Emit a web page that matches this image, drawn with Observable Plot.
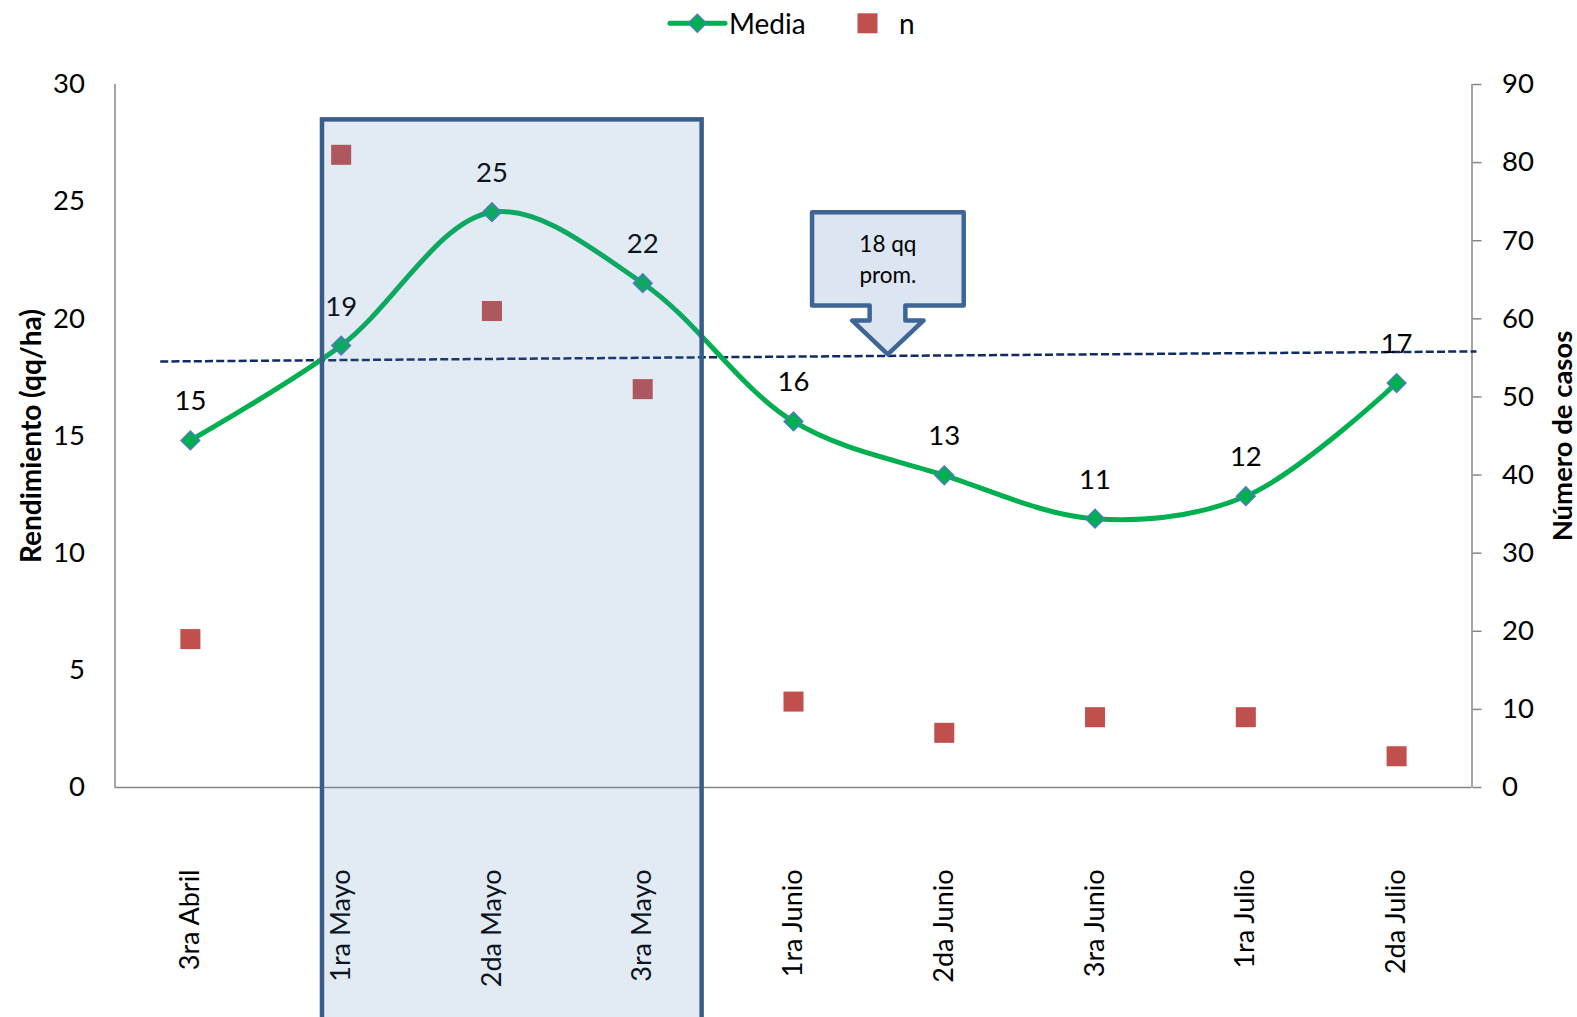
<!DOCTYPE html>
<html><head><meta charset="utf-8">
<script src="https://cdn.jsdelivr.net/npm/d3@7"></script>
<script src="https://cdn.jsdelivr.net/npm/@observablehq/plot@0.6"></script>
<style>
html,body{margin:0;padding:0;background:#fff;overflow:hidden;}
#legend{height:46px;display:block;}
#chart svg{display:block;}
</style></head><body>
<div id="legend"></div>
<div id="chart"></div>
<script>
// ---- data ----
const categories = ["3ra Abril","1ra Mayo","2da Mayo","3ra Mayo","1ra Junio","2da Junio","3ra Junio","1ra Julio","2da Julio"];
const media = [14.81, 18.86, 24.55, 21.52, 15.62, 13.32, 11.47, 12.43, 17.26];
const casos = [19, 81, 61, 51, 11, 7, 9, 9, 4];
const leftTicks = [0, 5, 10, 15, 20, 25, 30];
const rightTicks = [0, 10, 20, 30, 40, 50, 60, 70, 80, 90];
const leftMax = 30;
const rightMax = 90;
const seriesNames = ["Media", "n"];
const leftTitle = "Rendimiento (qq/ha)";
const rightTitle = "Número de casos";
// annotation: dashed average line (category index, qq/ha)
const avgLineX = [-0.2, 8.53];
const avgLineY = [18.18, 18.61];
// annotation: highlighted period box (category index, qq/ha)
const highlightX = [0.876, 3.394];
const highlightY = [-10.5, 28.49];
// annotation: down-arrow callout (category index, qq/ha)
const calloutX = [4.123, 5.129, 5.129, 4.742, 4.742, 4.863, 4.625, 4.389, 4.505, 4.505, 4.123, 4.123];
const calloutY = [24.55, 24.55, 20.57, 20.57, 19.93, 19.93, 18.48, 19.93, 19.93, 20.57, 20.57, 24.55];
const calloutText = "18 qq\nprom.";
const calloutTextX = 4.626;
const calloutTextY = 22.61;

// ---- colours ----
const green = "#00b050", markerEdge = "#4a7ebb", red = "#c0504d", axisGray = "#868686";
const font = "Lato, 'Open Sans', sans-serif";

// ---- legend ----
const lg = d3.select("#legend").append("svg").attr("width", 1577).attr("height", 46)
  .style("font-family", font).style("font-size", "28px");
lg.append("line").attr("x1", 670).attr("x2", 725).attr("y1", 23.3).attr("y2", 23.3)
  .attr("stroke", green).attr("stroke-width", 5).attr("stroke-linecap", "round");
lg.append("path").attr("d", "M697.3,14.3L706.3,23.3L697.3,32.3L688.3,23.3Z")
  .attr("fill", green).attr("stroke", markerEdge).attr("stroke-width", 1.5);
lg.append("text").attr("x", 729).attr("y", 33.5).text(seriesNames[0]);
lg.append("rect").attr("x", 857.5).attr("y", 13.3).attr("width", 20).attr("height", 20).attr("fill", red);
lg.append("text").attr("x", 899).attr("y", 33.5).text(seriesNames[1]);

// ---- chart ----
const idx = d3.range(categories.length);
const k = leftMax / rightMax;
const avgPts = avgLineX.map((x, i) => ({x, y: avgLineY[i]}));
const calloutPts = calloutX.map((x, i) => ({x, y: calloutY[i]}));
const box = [{x1: highlightX[0], x2: highlightX[1], y1: highlightY[0], y2: highlightY[1]}];
const ruleStyle = {stroke: axisGray, strokeWidth: 1.5};

const chart = Plot.plot({
  width: 1577,
  height: 971,
  marginTop: 38,
  marginBottom: 230,
  marginLeft: 114.5,
  marginRight: 105.5,
  style: {fontFamily: font, fontSize: "27px", color: "#000", background: "#fff"},
  x: {type: "linear", domain: [-0.5, categories.length - 0.5], axis: null},
  y: {domain: [0, leftMax], axis: null},
  marks: [
    Plot.axisY(leftTicks, {anchor: "left", tickSize: 0, tickPadding: 30, fontSize: 27.5, fill: "#000", label: null}),
    Plot.axisY(rightTicks.map(v => v * k), {anchor: "right", tickSize: 9, tickPadding: 21, stroke: axisGray, strokeWidth: 1.5, fill: "#000", fontSize: 27.5, tickFormat: d => String(Math.round(d / k)), label: null}),
    Plot.axisX(idx, {anchor: "bottom", tickSize: 0, tickPadding: 82, tickRotate: -90, fontSize: 27, fill: "#000", tickFormat: i => categories[i], label: null}),
    Plot.ruleX([-0.5], ruleStyle),
    Plot.ruleX([categories.length - 0.5], ruleStyle),
    Plot.ruleY([0], ruleStyle),
    Plot.line(avgPts, {x: "x", y: "y", stroke: "#102a63", strokeWidth: 2.5, strokeDasharray: "8,3.2", strokeLinecap: "butt"}),
    Plot.line(idx, {x: i => i, y: i => media[i], stroke: green, strokeWidth: 5, curve: "catmull-rom"}),
    Plot.dot(idx, {x: i => i, y: i => media[i], symbol: "diamond2", r: 8.4, fill: green, stroke: markerEdge, strokeWidth: 1.5}),
    Plot.dot(idx, {x: i => i, y: i => casos[i] * k, symbol: "square", r: 11.3, fill: red, stroke: "none"}),
    Plot.text(idx, {x: i => i, y: i => media[i], text: i => d3.format(".0f")(media[i]), dy: -30, lineAnchor: "bottom", fontSize: 27.5, fill: "#000"}),
    Plot.rect(box, {x1: "x1", x2: "x2", y1: "y1", y2: "y2", fill: "#4f81bd", fillOpacity: 0.165, stroke: "#385d8a", strokeWidth: 4.5}),
    Plot.line(calloutPts, {x: "x", y: "y", fill: "#dce6f2", stroke: "#3e6594", strokeWidth: 4.5, strokeLinejoin: "round", curve: "linear"}),
    Plot.text([calloutText], {x: calloutTextX, y: calloutTextY, text: d => d, lineAnchor: "middle", lineHeight: 1.39, fontSize: 22.5, fill: "#000"}),
    Plot.text([leftTitle], {frameAnchor: "left", textAnchor: "middle", dx: -74, rotate: -90, lineAnchor: "bottom", fontWeight: "bold", fontSize: 28, fill: "#000"}),
    Plot.text([rightTitle], {frameAnchor: "right", textAnchor: "middle", dx: 100, rotate: -90, lineAnchor: "bottom", fontWeight: "bold", fontSize: 27.5, fill: "#000"})
  ]
});
document.getElementById("chart").appendChild(chart);
</script>
</body></html>
